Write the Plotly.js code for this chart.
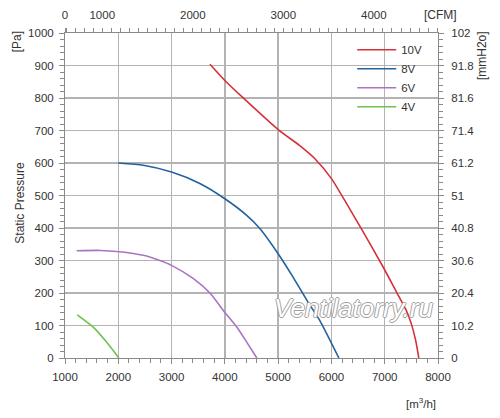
<!DOCTYPE html>
<html>
<head>
<meta charset="utf-8">
<script src="https://cdn.plot.ly/plotly-3.0.1.min.js"></script>
<style>html,body{margin:0;padding:0;background:#fff;}#chart{width:500px;height:418px;}</style>
</head>
<body>
<div id="chart"></div>
<script>
// Airflow in m3/h, static pressure in Pa
const series = ['10V', '8V', '6V', '4V'];
const flow10V = [3720, 4000, 4340, 5000, 5400, 5690, 6000, 6250, 6560, 6970, 7220, 7400, 7500, 7580, 7640];
const pres10V = [904, 854, 801, 703, 654, 613, 552, 485, 398, 280, 203, 148, 105, 55, 0];
const flow8V = [2000, 2470, 3000, 3530, 4000, 4410, 4660, 5000, 5280, 5560, 5780, 6140];
const pres8V = [600, 593, 572, 537, 490, 439, 398, 321, 249, 172, 116, 0];
const flow6V = [1220, 1660, 2020, 2470, 2780, 3000, 3410, 3720, 4000, 4220, 4410, 4600];
const pres6V = [330, 331, 327, 316, 300, 285, 244, 200, 140, 96, 49, 0];
const flow4V = [1230, 1530, 1780, 2010];
const pres4V = [133, 95, 49, 0];

const bottomTicks = [1000, 2000, 3000, 4000, 5000, 6000, 7000, 8000];
const leftTicks = [0, 100, 200, 300, 400, 500, 600, 700, 800, 900, 1000];
const mmLabels = ['0', '10.2', '20.4', '30.6', '40.8', '51', '61.2', '71.4', '81.6', '91.8', '102'];
const cfmLabels = ['0', '1000', '2000', '3000', '4000'];
const cfmValues = [1000 / 1.69901, 1000, 2000, 3000, 4000];
const colors = ['#d8303a', '#22629f', '#ab74c2', '#72c050'];

const FONT = 'Liberation Sans, Arial, sans-serif';
const flows = [flow10V, flow8V, flow6V, flow4V];
const pres = [pres10V, pres8V, pres6V, pres4V];

const traces = series.map((name, i) => ({
  x: flows[i], y: pres[i], name: name, type: 'scatter', mode: 'lines',
  line: {color: colors[i], width: 1.6, shape: 'spline', smoothing: 0.6},
  hoverinfo: 'skip'
}));
traces.push({x: [], y: [], xaxis: 'x2', yaxis: 'y2', showlegend: false, hoverinfo: 'skip', mode: 'lines'});

const gridC = '#b3b3b3';
const axisC = '#8a8a8a';
const tickFont = {family: FONT, size: 11.5, color: '#333'};
const lblFont = {family: FONT, size: 12, color: '#333'};

const layout = {
  width: 500, height: 418,
  margin: {l: 65, r: 61.7, t: 32.7, b: 60.3},
  paper_bgcolor: '#fff', plot_bgcolor: '#fff',
  font: {family: FONT, color: '#333'},
  showlegend: true,
  legend: {
    x: 0.77, y: 0.993, xanchor: 'left', yanchor: 'top',
    bgcolor: 'rgba(0,0,0,0)', borderwidth: 0, itemwidth: 39,
    font: {family: FONT, size: 11.5, color: '#333'},
    traceorder: 'normal'
  },
  xaxis: {
    range: [1000, 8000], tickvals: bottomTicks, showgrid: true, gridcolor: gridC, gridwidth: 1.3,
    showline: true, linecolor: axisC, linewidth: 1, ticks: 'outside', ticklen: 5, tickcolor: axisC,
    minor: {dtick: 200, ticklen: 4, tickcolor: axisC, showgrid: false},
    tickfont: tickFont, zeroline: false, fixedrange: true, ticklabelstandoff: 3
  },
  yaxis: {
    range: [0, 1000], tickvals: leftTicks, showgrid: true, gridcolor: gridC, gridwidth: 1.3,
    showline: true, linecolor: axisC, linewidth: 1, ticks: 'outside', ticklen: 5, tickcolor: axisC,
    minor: {dtick: 20, ticklen: 4, tickcolor: axisC, showgrid: false},
    tickfont: tickFont, zeroline: false, fixedrange: true, ticklabelstandoff: 3
  },
  xaxis2: {
    overlaying: 'x', side: 'top', anchor: 'y',
    range: [1000 / 1.69901, 8000 / 1.69901], tickvals: cfmValues, ticktext: cfmLabels,
    showgrid: false, showline: true, linecolor: axisC, linewidth: 1,
    ticks: 'outside', ticklen: 4, tickcolor: axisC,
    minor: {dtick: 100, ticklen: 4, tickcolor: axisC, showgrid: false},
    tickfont: tickFont, zeroline: false, fixedrange: true, ticklabelstandoff: 4
  },
  yaxis2: {
    overlaying: 'y', side: 'right', anchor: 'x',
    range: [0, 102], tickvals: mmLabels.map(Number), ticktext: mmLabels,
    showgrid: false, showline: true, linecolor: axisC, linewidth: 1,
    ticks: 'outside', ticklen: 5, tickcolor: axisC,
    minor: {dtick: 2.04, ticklen: 4, tickcolor: axisC, showgrid: false},
    tickfont: tickFont, zeroline: false, fixedrange: true, ticklabelstandoff: 5
  },
  shapes: [{
    type: 'rect', xref: 'paper', yref: 'paper', x0: 0.717, x1: 1, y0: 0.703, y1: 1,
    fillcolor: '#fff', line: {width: 0}, layer: 'between'
  }],
  annotations: [
    {text: 'Static Pressure', xref: 'paper', yref: 'paper', x: -0.1205, y: 0.478, showarrow: false,
     xanchor: 'center', yanchor: 'middle', textangle: -90, font: lblFont},
    {text: '[Pa]', xref: 'paper', yref: 'paper', x: -0.1286, y: 0.9714, showarrow: false,
     xanchor: 'center', yanchor: 'middle', textangle: -90, font: lblFont},
    {text: '[mmH2o]', xref: 'paper', yref: 'paper', x: 1.1197, y: 0.931, showarrow: false,
     xanchor: 'center', yanchor: 'middle', textangle: -90, font: lblFont},
    {text: '[CFM]', xref: 'paper', yref: 'paper', x: 1.0073, y: 1.0544, showarrow: false,
     xanchor: 'center', yanchor: 'middle', font: lblFont},
    {text: '[m<sup>3</sup>/h]', xref: 'paper', yref: 'paper', x: 1, xanchor: 'right', yanchor: 'middle', y: -0.139, showarrow: false,
     font: {family: FONT, size: 11.5, color: '#333'}},
    {text: 'Ventilatorry.ru', xref: 'paper', yref: 'paper', x: 0.774, y: 0.153, showarrow: false,
     xanchor: 'center', yanchor: 'middle',
     font: {family: FONT, size: 26, color: '#ffffff', style: 'italic',
            shadow: '1px 0 0 #a0a0a0, -1px 0 0 #a0a0a0, 0 1px 0 #a0a0a0, 0 -1px 0 #a0a0a0'}}
  ]
};

Plotly.newPlot('chart', traces, layout, {displayModeBar: false, staticPlot: true});
</script>
</body>
</html>
